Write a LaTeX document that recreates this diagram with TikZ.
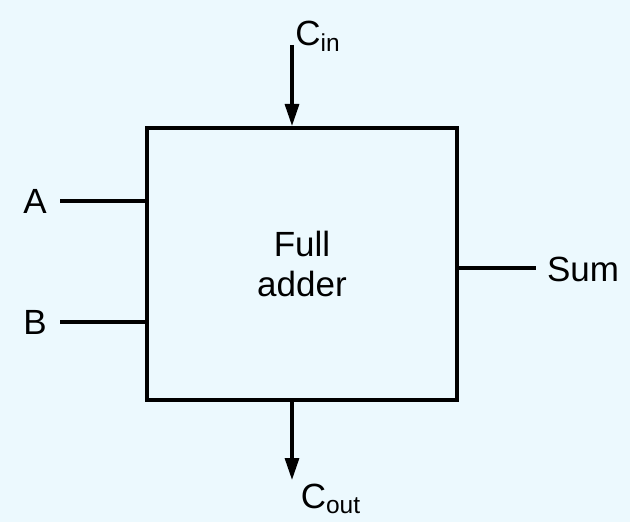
\documentclass[tikz,border=0pt]{standalone}
\usepackage{fontspec}
\setmainfont{Liberation Sans}
\usetikzlibrary{arrows.meta}
\definecolor{bgblue}{HTML}{ECF9FE}

\begin{document}
\begin{tikzpicture}[
  x=0.5pt, y=-0.5pt,
  every node/.style={font=\fontsize{17.5}{19}\selectfont, inner sep=0pt},
  adder/.style={draw, line width=2pt, minimum width=155pt, minimum height=136pt},
  wire/.style={line width=1.6pt},
  carry/.style={line width=1.6pt, -{Triangle[length=11pt, width=7pt]}},
]
\fill[bgblue] (0,0) rectangle (630,522);
\useasboundingbox (0,0) rectangle (630,522);

\node[adder, align=center] (fa) at (302,264) {Full\\[1pt]adder};

\node (a) at (35,201) {A};
\node (b) at (35,322) {B};
\node (sum) at (583,269) {Sum};
\node (cin) at (318,36) {C\textsubscript{in}};
\node (cout) at (331,499) {C\textsubscript{out}};

\coordinate (aend) at (60,201);
\coordinate (bend) at (60,322);
\coordinate (send) at (536,268);
\coordinate (cintop) at (292,45);
\coordinate (coutbot) at (292,480);

\draw[wire] (aend) -- (aend -| fa.west);
\draw[wire] (bend) -- (bend -| fa.west);
\draw[wire] (send -| fa.east) -- (send);
\draw[carry] (cintop) -- (cintop |- fa.north);
\draw[carry] (cintop |- fa.south) -- (coutbot);
\end{tikzpicture}
\end{document}
